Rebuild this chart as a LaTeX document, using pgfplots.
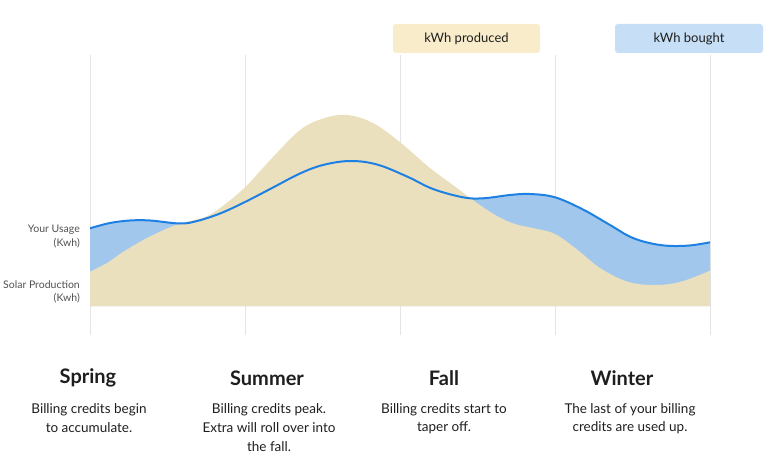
\documentclass[border=0pt]{standalone}
\usepackage{fontspec}
\setmainfont{Lato}
\usepackage{pgfplots}
\pgfplotsset{compat=1.18}
\definecolor{tanfill}{RGB}{234,224,190}
\definecolor{bluefill}{RGB}{161,200,236}
\definecolor{blueline}{RGB}{30,128,226}
\definecolor{gridc}{RGB}{228,228,228}
\definecolor{legtan}{RGB}{248,236,202}
\definecolor{legblue}{RGB}{198,222,246}
\definecolor{txt}{RGB}{30,30,30}
\definecolor{lbl}{RGB}{80,80,80}
\pgfplotstableread{
x y
0 77.7
20 83
40 85.5
60 85.5
90 82.5
107 85
130 92.5
155 104
183 118.5
210 132.5
233 141
260 145
287 141.5
317 129.5
343 117
373 108.7
393 107.7
420 111
440 112
465 108.7
493 96.5
520 81
543 68
570 61
597 60.3
620 63.7
}\usage
\pgfplotstableread{
x y
0 34.3
17 43
33 54
57 68
83 80
100 85
115 89
130 98
155 118.7
183 149
210 176
233 187.5
257 191
283 183
311 163
340 138
367 118
387 103
407 90
425 82
445 77.5
465 72
487 56.5
510 38
537 24.5
563 21
590 24
620 35.3
}\production
\begin{document}
\begin{tikzpicture}[x=1pt,y=1pt]
\path[use as bounding box] (0,0) rectangle (768,456);
\begin{axis}[
  at={(90pt,121pt)}, anchor=south west,
  scale only axis, width=620pt, height=280pt,
  xmin=0, xmax=620, ymin=-29, ymax=251,
  axis line style={draw=none}, tick style={draw=none},
  xtick={0,155,310,465,620}, xticklabels={}, ytick=\empty,
  xmajorgrids, grid style={gridc, line width=0.8pt},
]
\addplot[fill=bluefill, draw=none, smooth, tension=0.6] table {\usage} \closedcycle;
\addplot[fill=tanfill, draw=none, smooth, tension=0.6] table {\production} \closedcycle;
\addplot[blueline, line width=2pt, smooth, tension=0.6] table {\usage};
\end{axis}
% legend boxes
\fill[legtan, rounded corners=3pt] (393,403) rectangle (540,432);
\node[txt, font=\fontsize{13}{15}\selectfont] at (466.5,417.5) {kWh produced};
\fill[legblue, rounded corners=3pt] (615,403) rectangle (763,432);
\node[txt, font=\fontsize{13}{15}\selectfont] at (689,417.5) {kWh bought};
% left labels
\begin{scope}[every node/.style={lbl, anchor=east, font=\fontsize{10.5}{12}\selectfont, inner sep=0pt}]
\node at (80,226) {Your Usage};
\node at (80,213) {(Kwh)};
\node at (80,171) {Solar Production};
\node at (80,158) {(Kwh)};
\end{scope}
% season titles
\begin{scope}[every node/.style={txt, font=\fontsize{20}{22}\selectfont\bfseries, inner sep=0pt}]
\node at (88,78) {Spring};
\node at (267,78) {Summer};
\node at (444,78) {Fall};
\node at (622,78) {Winter};
\end{scope}
\begin{scope}[every node/.style={txt, font=\fontsize{13.5}{15}\selectfont, inner sep=0pt}]
\node at (89,46) {Billing credits begin};
\node at (89,28) {to accumulate.};
\node at (269,46) {Billing credits peak.};
\node at (269,28) {Extra will roll over into};
\node at (269,9) {the fall.};
\node at (444,46) {Billing credits start to};
\node at (444,28) {taper off.};
\node at (630,46) {The last of your billing};
\node at (630,28) {credits are used up.};
\end{scope}
\end{tikzpicture}
\end{document}
